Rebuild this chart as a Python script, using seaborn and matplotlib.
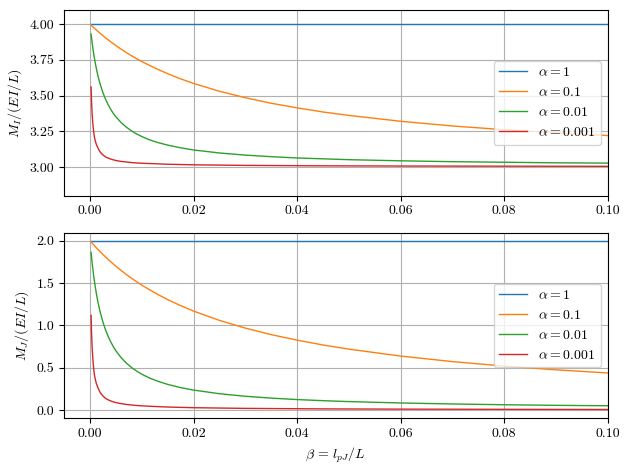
import matplotlib
matplotlib.use("Agg")
import matplotlib.pyplot as plt
import seaborn as sns
import pandas as pd

# beta = l_pJ / L sample positions
beta = [0.0002, 0.0003, 0.0004, 0.0005, 0.0006, 0.0007, 0.0008, 0.0009,
        0.001, 0.0012, 0.0014, 0.0016, 0.0018,
        0.002, 0.0025, 0.003, 0.0035, 0.004, 0.0045, 0.005,
        0.006, 0.007, 0.008, 0.009, 0.01,
        0.0115, 0.013, 0.015, 0.0175, 0.02,
        0.025, 0.03, 0.035, 0.04, 0.045, 0.05,
        0.06, 0.07, 0.08, 0.09, 0.1]

alpha_labels = [r"$\alpha = 1$", r"$\alpha = 0.1$", r"$\alpha = 0.01$", r"$\alpha = 0.001$"]

# M_I/(EI/L)
mi_a1 = [4.0] * 41
mi_a01 = [3.993, 3.990, 3.986, 3.983, 3.979, 3.976, 3.973, 3.969,
          3.966, 3.959, 3.953, 3.947, 3.940,
          3.934, 3.919, 3.904, 3.890, 3.876, 3.863, 3.850,
          3.825, 3.801, 3.779, 3.758, 3.738,
          3.711, 3.685, 3.653, 3.617, 3.585,
          3.530, 3.485, 3.446, 3.414, 3.385, 3.361,
          3.320, 3.287, 3.261, 3.239, 3.220]
mi_a001 = [3.931, 3.900, 3.871, 3.844, 3.818, 3.794, 3.772, 3.750,
           3.730, 3.693, 3.659, 3.628, 3.600,
           3.575, 3.519, 3.474, 3.436, 3.403, 3.375, 3.351,
           3.311, 3.279, 3.253, 3.231, 3.213,
           3.190, 3.172, 3.153, 3.134, 3.119,
           3.098, 3.083, 3.072, 3.063, 3.057, 3.051,
           3.043, 3.037, 3.033, 3.029, 3.027]
mi_a0001 = [3.560, 3.450, 3.375, 3.323, 3.280, 3.248, 3.220, 3.200,
            3.185, 3.160, 3.143, 3.128, 3.114,
            3.103, 3.084, 3.070, 3.062, 3.055, 3.050, 3.045,
            3.039, 3.035, 3.031, 3.028, 3.026,
            3.024, 3.022, 3.019, 3.017, 3.015,
            3.013, 3.011, 3.010, 3.009, 3.008, 3.0075,
            3.0065, 3.006, 3.0055, 3.005, 3.0045]

# M_J/(EI/L)
mj_a1 = [2.0] * 41
mj_a01 = [1.986, 1.979, 1.972, 1.965, 1.958, 1.952, 1.945, 1.938,
          1.931, 1.918, 1.905, 1.893, 1.880,
          1.868, 1.837, 1.808, 1.779, 1.752, 1.725, 1.699,
          1.649, 1.602, 1.558, 1.516, 1.476,
          1.421, 1.369, 1.305, 1.234, 1.170,
          1.060, 0.969, 0.892, 0.827, 0.770, 0.721,
          0.639, 0.574, 0.521, 0.477, 0.440]
mj_a001 = [1.862, 1.800, 1.742, 1.688, 1.636, 1.588, 1.543, 1.500,
           1.459, 1.385, 1.317, 1.256, 1.200,
           1.149, 1.038, 0.947, 0.871, 0.806, 0.750, 0.701,
           0.621, 0.557, 0.505, 0.462, 0.425,
           0.380, 0.344, 0.305, 0.267, 0.238,
           0.195, 0.165, 0.143, 0.126, 0.113, 0.102,
           0.086, 0.074, 0.065, 0.058, 0.053]
mj_a0001 = [1.12, 0.90, 0.75, 0.645, 0.56, 0.495, 0.44, 0.40,
            0.37, 0.32, 0.285, 0.255, 0.228,
            0.205, 0.168, 0.14, 0.123, 0.11, 0.099, 0.09,
            0.078, 0.069, 0.062, 0.056, 0.052,
            0.047, 0.043, 0.038, 0.034, 0.030,
            0.026, 0.022, 0.020, 0.018, 0.016, 0.015,
            0.013, 0.012, 0.011, 0.010, 0.009]

plt.rcParams["font.family"] = "serif"
plt.rcParams["font.serif"] = ["cmr10"]
plt.rcParams["mathtext.fontset"] = "cm"
plt.rcParams["axes.formatter.use_mathtext"] = True
plt.rcParams["font.size"] = 10

colors = ["#1f77b4", "#ff7f0e", "#2ca02c", "#d62728"]

fig, (ax1, ax2) = plt.subplots(2, 1, figsize=(6.29, 4.70), dpi=100)
fig.subplots_adjust(left=0.102, right=0.966, top=0.979, bottom=0.110, hspace=0.20)

for ax, series in [(ax1, [mi_a1, mi_a01, mi_a001, mi_a0001]),
                   (ax2, [mj_a1, mj_a01, mj_a001, mj_a0001])]:
    for lab, vals, col in zip(alpha_labels, series, colors):
        df = pd.DataFrame({"beta": beta, "M": vals})
        sns.lineplot(data=df, x="beta", y="M", ax=ax, color=col, linewidth=1.0,
                     label=lab, estimator=None, sort=True)
    ax.grid(True)
    ax.set_xlim(-0.005, 0.1)
    ax.set_xticks([0.0, 0.02, 0.04, 0.06, 0.08, 0.10])
    ax.set_xticklabels(["0.00", "0.02", "0.04", "0.06", "0.08", "0.10"])
    ax.legend(loc="center right")

ax1.set_ylim(2.8, 4.1)
ax1.set_yticks([3.0, 3.25, 3.5, 3.75, 4.0])
ax1.set_yticklabels(["3.00", "3.25", "3.50", "3.75", "4.00"])
ax1.set_xlabel("")
ax1.set_ylabel(r"$M_I/(EI/L)$")

ax2.set_ylim(-0.095, 2.095)
ax2.set_yticks([0.0, 0.5, 1.0, 1.5, 2.0])
ax2.set_yticklabels(["0.0", "0.5", "1.0", "1.5", "2.0"])
ax2.set_xlabel(r"$\beta\,=\,l_{pJ}/L$")
ax2.set_ylabel(r"$M_J/(EI/L)$")

fig.savefig("out.png", dpi=100)
